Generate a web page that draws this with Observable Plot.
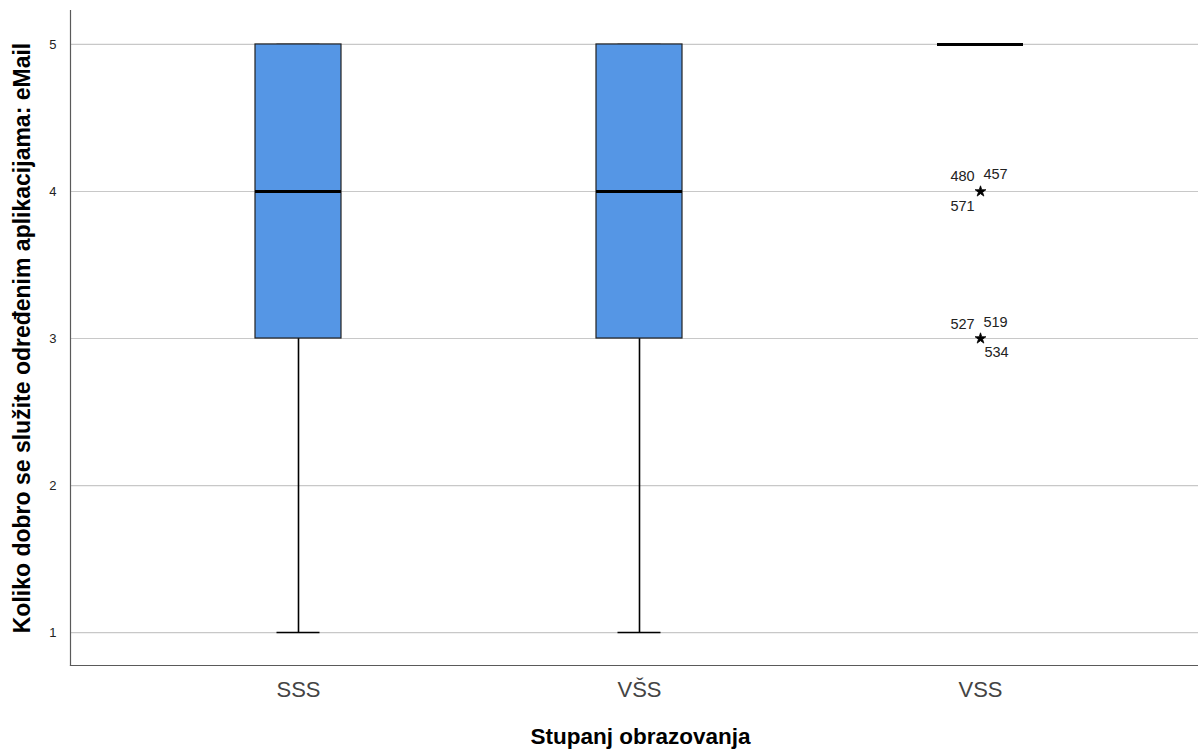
<!DOCTYPE html>
<html>
<head>
<meta charset="utf-8">
<script src="https://cdn.jsdelivr.net/npm/d3@7"></script>
<script src="https://cdn.jsdelivr.net/npm/@observablehq/plot@0.6"></script>
<style>
  html, body { margin: 0; padding: 0; background: #fff; }
  svg { display: block; }
</style>
</head>
<body>
<div id="chart"></div>
<script>
// ---- Data ----
const categories = ["SSS", "VŠS", "VSS"];
const whiskerLow = [1, 1, 5];
const q1 = [3, 3, 5];
const median = [4, 4, 5];
const q3 = [5, 5, 5];
const whiskerHigh = [5, 5, 5];
const outlierCategory = ["VSS", "VSS"];
const outlierValue = [4, 3];
const outlierIds = [[480, 457, 571], [527, 519, 534]];
const yTicks = [1, 2, 3, 4, 5];
const yLabel = "Koliko dobro se služite određenim aplikacijama: eMail";
const xLabel = "Stupanj obrazovanja";

// ---- Build tables ----
const boxes = categories.map((c, i) => ({
  cat: c, lo: whiskerLow[i], q1: q1[i], med: median[i], q3: q3[i], hi: whiskerHigh[i]
}));
const outliers = outlierCategory.map((c, i) => ({cat: c, value: outlierValue[i]}));
// label placement (style only): per outlier, per id -> [dx, dy]
const labelOffsets = [
  [[-18, -15], [15, -17], [-18, 15]],
  [[-18, -14], [15, -16], [16, 14]]
];
const labelMarks = [];
outliers.forEach((o, i) => outlierIds[i].forEach((id, j) => {
  labelMarks.push(Plot.text([{cat: o.cat, value: o.value, id: String(id)}], {
    x: "cat", y: "value", text: "id",
    dx: labelOffsets[i][j][0], dy: labelOffsets[i][j][1],
    fontSize: 14.5, fill: "#222"
  }));
}));

const font = "'Liberation Sans', Arial, sans-serif";
const boxFill = "#5596e5";

const plot = Plot.plot({
  width: 1198,
  height: 751,
  marginLeft: 70,
  marginRight: 0,
  marginTop: 10,
  marginBottom: 86,
  style: {fontFamily: font, background: "#fff"},
  x: {type: "band", domain: categories, paddingInner: 0.748, paddingOuter: 0.5255, align: 0.515, axis: null, label: null},
  y: {domain: [0.776, 5.231], axis: null, label: null},
  marks: [
    Plot.gridY(yTicks, {stroke: "#c8c8c8", strokeOpacity: 1, strokeWidth: 1.2}),
    Plot.frame({anchor: "left", stroke: "#5a5a5a", strokeWidth: 1.2}),
    Plot.frame({anchor: "bottom", stroke: "#5a5a5a", strokeWidth: 1.2}),
    Plot.axisY(yTicks, {tickSize: 0, tickPadding: 14, fontSize: 13, fill: "#222", tickFormat: d3.format("d"), label: null}),
    Plot.axisX(categories, {tickSize: 0, tickPadding: 16, fontSize: 22, fill: "#444", label: null}),
    // whiskers
    Plot.ruleX(boxes, {x: "cat", y1: "lo", y2: "q1", stroke: "#000", strokeWidth: 1.6}),
    Plot.ruleX(boxes, {x: "cat", y1: "q3", y2: "hi", stroke: "#000", strokeWidth: 1.6}),
    // caps
    Plot.tickY(boxes, {x: "cat", y: "lo", stroke: "#000", strokeWidth: 1.6, insetLeft: 21.5, insetRight: 21.5}),
    Plot.tickY(boxes, {x: "cat", y: "hi", stroke: "#000", strokeWidth: 1.6, insetLeft: 21.5, insetRight: 21.5}),
    // boxes
    Plot.barY(boxes, {x: "cat", y1: "q1", y2: "q3", fill: boxFill, stroke: "#222", strokeWidth: 1.2}),
    // medians
    Plot.tickY(boxes, {x: "cat", y: "med", stroke: "#000", strokeWidth: 3}),
    // outliers
    Plot.dot(outliers, {x: "cat", y: "value", symbol: "star", r: 3.4, fill: "#000", stroke: "#000", strokeWidth: 0.8}),
    ...labelMarks,
    // axis titles
    Plot.text([yLabel], {frameAnchor: "left", textAnchor: "middle", rotate: -90, dx: -48, fontSize: 23, fontWeight: "bold", fill: "#000"}),
    Plot.text([xLabel], {frameAnchor: "bottom", textAnchor: "middle", dy: 78, dx: 6, fontSize: 22.5, fontWeight: "bold", fill: "#000"})
  ]
});
document.getElementById("chart").appendChild(plot);
</script>
</body>
</html>
